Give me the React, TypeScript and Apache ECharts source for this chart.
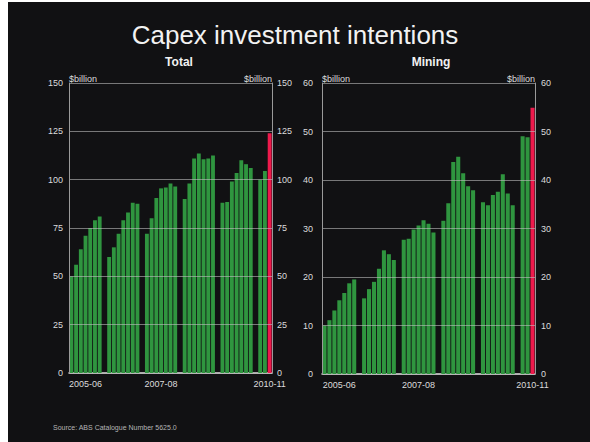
import React, { useEffect, useRef } from "react";
import * as echarts from "echarts";

const years = ["2005-06", "2006-07", "2007-08", "2008-09", "2009-10", "2010-11"];
// Successive estimates for each financial year ($billion)
const totalByYear: number[][] = [
  [50, 56, 64, 71, 75, 79, 81],
  [60, 65, 72, 79, 83, 88, 87.5],
  [72, 80, 90.5, 95.5, 96, 98, 96.5],
  [90, 98, 111, 113.5, 110.5, 111, 112.5],
  [88, 88.5, 99, 103.5, 110, 108, 106],
  [100, 104.5, 124],
];
const miningByYear: number[][] = [
  [10, 11.1, 13.1, 15.2, 16.7, 18.7, 19.5],
  [15.6, 17.5, 19, 21.7, 25.5, 24.7, 23.5],
  [27.7, 27.9, 29.8, 30.6, 31.7, 31, 29.2],
  [31.6, 35.2, 43.7, 44.8, 41.4, 38.7, 37.9],
  [35.4, 34.8, 36.9, 37.6, 41.2, 37.2, 34.8],
  [49, 48.8, 54.9],
];
const xTickLabels: Record<number, string> = { 3: "2005-06", 19: "2007-08", 42: "2010-11" };
const totalTicks = { min: 0, max: 150, interval: 25 };
const miningTicks = { min: 0, max: 60, interval: 10 };

const GREEN = "#2f953f";
const RED = "#ee1a4c";
const FONT = "'Liberation Sans', Arial, sans-serif";

function buildCategories(): string[] {
  const cats: string[] = [];
  years.forEach((y, yi) => {
    totalByYear[yi].forEach((_, k) => cats.push(`${y} est ${k + 1}`));
    if (yi < years.length - 1) cats.push(`${y} gap`);
  });
  return cats;
}

function buildData(byYear: number[][]): any[] {
  const out: any[] = [];
  byYear.forEach((vals, yi) => {
    vals.forEach((v, k) => {
      const isLatest = yi === byYear.length - 1 && k === vals.length - 1;
      out.push(isLatest ? { value: v, itemStyle: { color: RED } } : v);
    });
    if (yi < byYear.length - 1) out.push(null);
  });
  return out;
}

export default function App() {
  const ref = useRef<HTMLDivElement>(null);
  useEffect(() => {
    if (!ref.current) return;
    const chart = echarts.init(ref.current, undefined, { renderer: "svg" });
    const categories = buildCategories();
    const textColor = "#dcdcdc";

    const xAxisFor = (gridIndex: number) => ({
      type: "category",
      gridIndex,
      data: categories,
      boundaryGap: true,
      axisTick: { show: false },
      axisLine: { lineStyle: { color: "#e0e0e0", width: 1.5 } },
      axisLabel: {
        color: textColor,
        fontSize: 9,
        fontFamily: FONT,
        interval: 0,
        margin: 6,
        formatter: (_: string, i: number) => xTickLabels[i] ?? "",
      },
      splitLine: { show: false },
    });

    const yAxisFor = (gridIndex: number, ticks: any, position: "left" | "right", margin: number) => ({
      type: "value",
      gridIndex,
      position,
      min: ticks.min,
      max: ticks.max,
      interval: ticks.interval,
      z: 3,
      name: "$billion",
      nameLocation: "end",
      nameGap: 0,
      nameTextStyle: {
        color: textColor,
        fontSize: 9,
        fontFamily: FONT,
        align: position === "left" ? "left" : "right",
        verticalAlign: "bottom",
      },
      axisLine: { show: true, lineStyle: { color: "#9a9a9a", width: 1 } },
      axisTick: { show: false },
      axisLabel: { color: textColor, fontSize: 9, fontFamily: FONT, margin },
      splitLine: {
        show: position === "left",
        lineStyle: { color: "rgba(190,190,190,0.6)", width: 1 },
      },
    });

    chart.setOption({
      animation: false,
      backgroundColor: "#111113",
      title: [
        {
          text: "Capex investment intentions",
          left: "center",
          top: 17,
          textStyle: { color: "#f2f2f2", fontSize: 26, fontWeight: "normal", fontFamily: FONT },
        },
        {
          text: "Total",
          left: 174,
          top: 51,
          textAlign: "center",
          textStyle: { color: "#f2f2f2", fontSize: 12, fontWeight: "bold", fontFamily: FONT },
        },
        {
          text: "Mining",
          left: 426,
          top: 51,
          textAlign: "center",
          textStyle: { color: "#f2f2f2", fontSize: 12, fontWeight: "bold", fontFamily: FONT },
        },
      ],
      grid: [
        { left: 69, top: 83, width: 203, height: 290, containLabel: false },
        { left: 322, top: 83, width: 213, height: 291, containLabel: false },
      ],
      xAxis: [xAxisFor(0), xAxisFor(1)],
      yAxis: [
        yAxisFor(0, totalTicks, "left", 6),
        yAxisFor(0, totalTicks, "right", 5),
        yAxisFor(1, miningTicks, "left", 9),
        yAxisFor(1, miningTicks, "right", 6),
      ],
      series: [
        {
          type: "bar",
          name: "Total",
          xAxisIndex: 0,
          yAxisIndex: 0,
          data: buildData(totalByYear),
          barCategoryGap: "18%",
          itemStyle: { color: GREEN },
        },
        {
          type: "bar",
          name: "Mining",
          xAxisIndex: 1,
          yAxisIndex: 2,
          data: buildData(miningByYear),
          barCategoryGap: "18%",
          itemStyle: { color: GREEN },
        },
      ],
      graphic: [
        { type: "rect", shape: { x: 0, y: 0, width: 8, height: 442 }, style: { fill: "#ffffff" }, silent: true },
        { type: "rect", shape: { x: 0, y: 0, width: 590, height: 2 }, style: { fill: "#ffffff" }, silent: true },
        {
          type: "text",
          left: 53,
          top: 424,
          style: { text: "Source: ABS Catalogue Number 5625.0", fill: "#b5b5b5", fontSize: 7, fontFamily: FONT },
        },
      ],
    });
    return () => chart.dispose();
  }, []);
  return (
    <div
      ref={ref}
      style={{ position: "absolute", left: 0, top: 0, width: 590, height: 442 }}
    />
  );
}
